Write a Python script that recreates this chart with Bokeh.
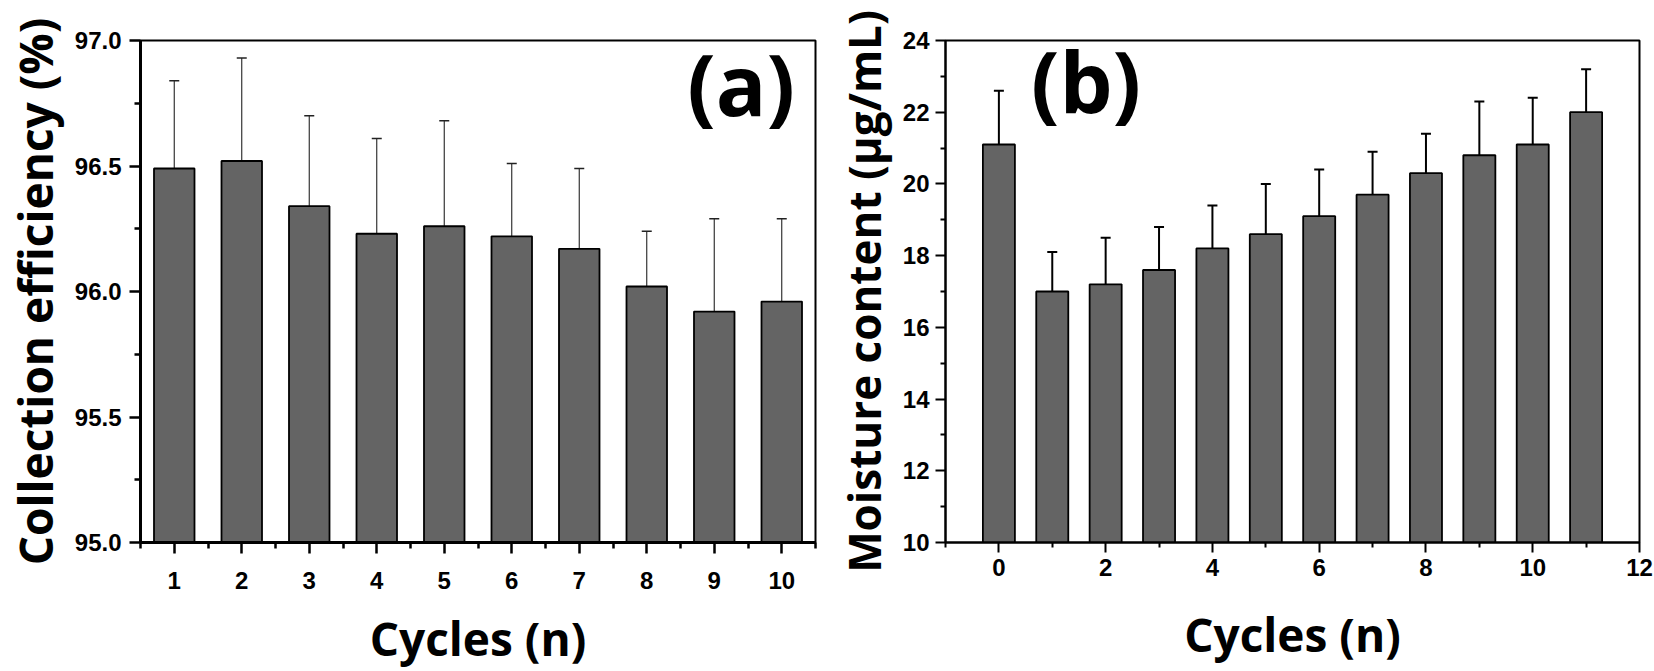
from bokeh.plotting import figure
from bokeh.layouts import row
from bokeh.models import (ColumnDataSource, Range1d, FixedTicker, PrintfTickFormatter,
                          Whisker, TeeHead, Label)
from bokeh.embed import file_html
from bokeh.resources import INLINE

# ---------------- data ----------------
cycles_a = [1, 2, 3, 4, 5, 6, 7, 8, 9, 10]
efficiency = [96.49, 96.52, 96.34, 96.23, 96.26, 96.22, 96.17, 96.02, 95.92, 95.96]
efficiency_err = [0.35, 0.41, 0.36, 0.38, 0.42, 0.29, 0.32, 0.22, 0.37, 0.33]

cycles_b = [0, 1, 2, 3, 4, 5, 6, 7, 8, 9, 10, 11]
moisture = [21.1, 17.0, 17.2, 17.6, 18.2, 18.6, 19.1, 19.7, 20.3, 20.8, 21.1, 22.0]
moisture_err = [1.5, 1.1, 1.3, 1.2, 1.2, 1.4, 1.3, 1.2, 1.1, 1.5, 1.3, 1.2]

ticks_a_x = [1, 2, 3, 4, 5, 6, 7, 8, 9, 10]
minor_a_x = [0.5, 1.5, 2.5, 3.5, 4.5, 5.5, 6.5, 7.5, 8.5, 9.5, 10.5]
ticks_a_y = [95.0, 95.5, 96.0, 96.5, 97.0]
minor_a_y = [95.25, 95.75, 96.25, 96.75]
ticks_b_x = [0, 2, 4, 6, 8, 10, 12]
minor_b_x = [-1, 1, 3, 5, 7, 9, 11]
ticks_b_y = [10, 12, 14, 16, 18, 20, 22, 24]
minor_b_y = [11, 13, 15, 17, 19, 21, 23]

BAR = "#646464"
TICK_FONT = "Liberation Sans"
TITLE_FONT = "Open Sans"


def style(p, tick_w, ax_w):
    p.xgrid.visible = False
    p.ygrid.visible = False
    p.outline_line_color = "black"
    p.outline_line_width = 2
    p.background_fill_color = "white"
    p.border_fill_color = "white"
    for ax in (p.xaxis[0], p.yaxis[0]):
        ax.axis_line_width = ax_w
        ax.axis_line_color = "black"
        ax.major_tick_line_width = tick_w
        ax.minor_tick_line_width = tick_w
        ax.major_tick_line_color = "black"
        ax.minor_tick_line_color = "black"
        ax.major_tick_in = 0
        ax.minor_tick_in = 0
        ax.major_label_text_font = TICK_FONT
        ax.major_label_text_font_style = "bold"
        ax.major_label_text_font_size = "24px"
        ax.major_label_text_color = "black"
        ax.axis_label_text_font = TITLE_FONT
        ax.axis_label_text_font_style = "bold"
        ax.axis_label_text_font_size = "46px"
        ax.axis_label_text_color = "black"


# ---------------- panel (a) ----------------
pa = figure(width=830, height=671, output_backend="svg", toolbar_location=None,
            x_range=Range1d(0.5, 10.5), y_range=Range1d(95.0, 97.0),
            min_border_left=137, min_border_right=15, min_border_top=40, min_border_bottom=128)
src_a = ColumnDataSource(dict(x=cycles_a, y=efficiency,
                              upper=[v + e for v, e in zip(efficiency, efficiency_err)],
                              lower=[v - e for v, e in zip(efficiency, efficiency_err)]))
pa.vbar(x="x", top="y", bottom=95.0, width=0.6, source=src_a,
        fill_color=BAR, line_color="black", line_width=1.8)
pa.add_layout(Whisker(source=src_a, base="x", upper="upper", lower="lower", dimension="height",
                      line_color="#222222", line_width=1.1,
                      upper_head=TeeHead(size=10, line_color="#222222", line_width=1.5),
                      lower_head=TeeHead(size=10, line_color="#222222", line_width=1.5)))
style(pa, 2.5, 3)
pa.xaxis.ticker = FixedTicker(ticks=ticks_a_x, minor_ticks=minor_a_x)
pa.yaxis.ticker = FixedTicker(ticks=ticks_a_y, minor_ticks=minor_a_y)
pa.yaxis.formatter = PrintfTickFormatter(format="%.1f")
pa.xaxis.major_tick_out = 11
pa.xaxis.minor_tick_out = 6
pa.yaxis.major_tick_out = 11
pa.yaxis.minor_tick_out = 6
pa.xaxis.major_label_standoff = 18
pa.yaxis.major_label_standoff = 8
pa.xaxis.axis_label = "Cycles (n)"
pa.yaxis.axis_label = "Collection efficiency (%)"
pa.xaxis.axis_label_standoff = 15
pa.yaxis.axis_label_standoff = 6
pa.add_layout(Label(x=8.6, y=96.83, text="(a)", text_font=TITLE_FONT, text_font_style="bold",
                    text_font_size="84px", text_color="black", text_baseline="alphabetic",
                    text_align="left"))

# ---------------- panel (b) ----------------
pb = figure(width=824, height=671, output_backend="svg", toolbar_location=None,
            x_range=Range1d(-1, 12), y_range=Range1d(10, 24),
            min_border_left=112, min_border_right=15, min_border_top=38, min_border_bottom=125)
src_b = ColumnDataSource(dict(x=cycles_b, y=moisture,
                              upper=[v + e for v, e in zip(moisture, moisture_err)],
                              lower=[v - e for v, e in zip(moisture, moisture_err)]))
pb.vbar(x="x", top="y", bottom=10, width=0.6, source=src_b,
        fill_color=BAR, line_color="black", line_width=1.8)
pb.add_layout(Whisker(source=src_b, base="x", upper="upper", lower="lower", dimension="height",
                      line_color="black", line_width=2,
                      upper_head=TeeHead(size=10, line_color="black", line_width=2),
                      lower_head=TeeHead(size=10, line_color="black", line_width=2)))
style(pb, 2, 2)
pb.yaxis.axis_label_text_font_size = "44px"
pb.xaxis.ticker = FixedTicker(ticks=ticks_b_x, minor_ticks=minor_b_x)
pb.yaxis.ticker = FixedTicker(ticks=ticks_b_y, minor_ticks=minor_b_y)
pb.yaxis.formatter = PrintfTickFormatter(format="%d")
pb.xaxis.major_tick_out = 10
pb.xaxis.minor_tick_out = 5
pb.yaxis.major_tick_out = 10
pb.yaxis.minor_tick_out = 5
pb.xaxis.major_label_standoff = 6
pb.yaxis.major_label_standoff = 6
pb.xaxis.axis_label = "Cycles (n)"
pb.yaxis.axis_label = "Moisture content (μg/mL)"
pb.xaxis.axis_label_standoff = 24
pb.yaxis.axis_label_standoff = 6
pb.add_layout(Label(x=0.6, y=22.88, text="(b)", text_font=TITLE_FONT, text_font_style="bold",
                    text_font_size="84px", text_color="black", text_baseline="alphabetic",
                    text_align="left"))

layout = row(pa, pb)
open("out.html", "w").write(file_html(layout, INLINE))
